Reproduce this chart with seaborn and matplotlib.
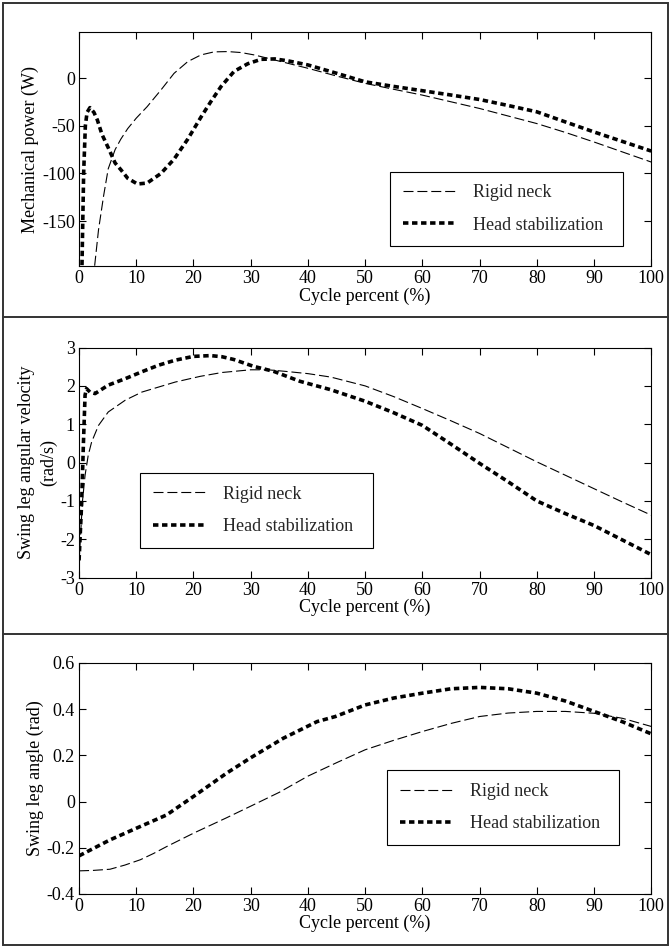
import numpy as np
import pandas as pd
import matplotlib
matplotlib.use("Agg")
import matplotlib.pyplot as plt
import seaborn as sns

# Cycle percent values
# Panel 1: mechanical power (W)
power_rigid_x = [2.0, 2.7, 3.4, 4.3, 5.1, 6.3, 7.3, 8.5, 10, 11.9, 14.3, 16.6, 19.0, 21.3,
                 23.6, 26, 28.3, 30.6, 33, 36.5, 40, 45, 50, 55, 60, 65, 70, 75, 80, 85,
                 90, 95, 100]
power_rigid_y = [-240, -198, -159, -123, -95, -75, -64, -53, -42, -30, -12.6, 4.9, 17.2, 24.2,
                 27.4, 27.7, 26.7, 24.2, 20.7, 15.4, 10.2, 2.1, -5.6, -11.8, -17.9, -24.9,
                 -31.9, -39.8, -47.7, -57, -67, -77.5, -88]
power_head_x = [0, 0.5, 0.8, 1.1, 1.4, 1.9, 2.6, 3.2, 4.0, 5.1, 6.3, 7.3, 8.5, 10.2, 11.9,
                14.3, 16.6, 19.0, 21.3, 23.0, 24.8, 27.1, 29.5, 31.8, 34.2, 36.5, 40, 45,
                50, 55, 60, 65, 70, 75, 80, 85, 90, 95, 100]
power_head_y = [-300, -200, -100, -50, -36, -31, -36, -44, -59, -73, -89, -96, -105, -111,
                -110, -100, -85, -64, -41, -25, -9, 7, 15, 19.6, 20, 18, 13.7, 5, -4,
                -8.8, -13.3, -17.8, -22.5, -28.8, -35.4, -46, -56.5, -66.5, -76.5]

# Panel 2: swing leg angular velocity (rad/s)
vel_rigid_x = [0, 0.17, 0.58, 1.05, 1.6, 2.2, 3.4, 5.1, 8.1, 11, 13.9, 16.8, 21.2, 25, 30,
               33, 36, 40, 44, 50, 55, 60, 65, 70, 75, 80, 85, 90, 95, 100]
vel_rigid_y = [-2.6, -2.16, -1.03, -0.33, 0.19, 0.54, 0.97, 1.32, 1.63, 1.84, 1.97, 2.1,
               2.25, 2.35, 2.42, 2.42, 2.38, 2.32, 2.23, 2.0, 1.72, 1.41, 1.09, 0.76, 0.39,
               0.02, -0.33, -0.68, -1.03, -1.37]
vel_head_x = [0, 0.46, 0.75, 1.05, 1.3, 1.9, 2.8, 5.1, 8.1, 11, 13.9, 16.8, 20, 23, 25, 27,
              30.5, 34, 38.6, 44, 50, 55, 60, 65, 70, 75, 80, 85, 90, 95, 100]
vel_head_y = [-2.55, -1.03, 0.45, 1.76, 1.93, 1.84, 1.8, 2.02, 2.19, 2.37, 2.54, 2.67, 2.77,
              2.79, 2.76, 2.69, 2.51, 2.38, 2.12, 1.9, 1.6, 1.3, 0.97, 0.48, -0.02, -0.5,
              -1.0, -1.33, -1.64, -2.02, -2.4]

# Panel 3: swing leg angle (rad)
ang_rigid_x = [0, 2.5, 5.4, 8, 10.7, 13, 15.3, 20, 25.8, 30, 35, 40, 45, 50, 55, 60, 65, 70,
               75, 80, 85, 90, 95, 100]
ang_rigid_y = [-0.30, -0.298, -0.293, -0.275, -0.252, -0.225, -0.195, -0.137, -0.07, -0.02,
               0.04, 0.11, 0.168, 0.224, 0.265, 0.303, 0.338, 0.368, 0.383, 0.39, 0.39,
               0.382, 0.36, 0.325]
ang_head_x = [0, 5.4, 10.7, 15.3, 20, 25.8, 29.9, 35.7, 41.6, 44.8, 50, 55, 60, 65, 70, 75,
              80, 85, 90, 95, 100]
ang_head_y = [-0.235, -0.166, -0.108, -0.058, 0.022, 0.123, 0.188, 0.274, 0.346, 0.368,
              0.418, 0.448, 0.469, 0.488, 0.494, 0.488, 0.469, 0.435, 0.39, 0.345, 0.293]

labels = ["Rigid neck", "Head stabilization"]
ylabels = ["Mechanical power (W)", "Swing leg angular velocity\n(rad/s)", "Swing leg angle (rad)"]
ylims = [(-197, 48), (-3, 3), (-0.4, 0.6)]
yticks = [[-150, -100, -50, 0], [-3, -2, -1, 0, 1, 2, 3], [-0.4, -0.2, 0, 0.2, 0.4, 0.6]]
yticklabels = [["-150", "-100", "-50", "0"],
               ["-3", "-2", "-1", "0", "1", "2", "3"],
               ["-0.4", "-0.2", "0", "0.2", "0.4", "0.6"]]
xticks = list(range(0, 101, 10))
legend_pos = [(0.544, 0.085), (0.107, 0.13), (0.538, 0.212)]

panels = [
    (power_rigid_x, power_rigid_y, power_head_x, power_head_y),
    (vel_rigid_x, vel_rigid_y, vel_head_x, vel_head_y),
    (ang_rigid_x, ang_rigid_y, ang_head_x, ang_head_y),
]

sns.set_theme(style="ticks")
plt.rcParams["font.family"] = ["Liberation Serif", "DejaVu Serif"]

fig = plt.figure(figsize=(6.7, 9.47), dpi=100)
fig.patch.set_facecolor("white")

# axes boxes (left, bottom, width, height) in figure fractions
boxes = [(0.118, 0.719, 0.854, 0.247),
         (0.118, 0.390, 0.854, 0.243),
         (0.118, 0.056, 0.854, 0.244)]

FS = 13

for i, (rx, ry, hx, hy) in enumerate(panels):
    ax = fig.add_axes(boxes[i])
    ax.set_facecolor("white")
    sns.lineplot(x=rx, y=ry, ax=ax, color="black", linewidth=0.8,
                 linestyle=(0, (9, 3.5)), label=labels[0])
    sns.lineplot(x=hx, y=hy, ax=ax, color="black", linewidth=2.6,
                 linestyle=(0, (1.5, 1.0)), label=labels[1])
    ax.set_xlim(0, 100)
    ax.set_ylim(*ylims[i])
    ax.set_xticks(xticks)
    ax.set_xticklabels([str(t) for t in xticks])
    ax.set_yticks(yticks[i])
    ax.set_yticklabels(yticklabels[i])
    ax.tick_params(direction="in", top=True, right=True, length=5, width=0.8,
                   labelsize=FS, colors="black", pad=3)
    for s in ax.spines.values():
        s.set_visible(True)
        s.set_color("black")
        s.set_linewidth(0.8)
    ax.set_xlabel("Cycle percent (%)", fontsize=FS, color="black", labelpad=0)
    ax.set_ylabel(ylabels[i], fontsize=FS, color="black", labelpad=2, linespacing=1.35)
    x0, y0 = legend_pos[i]
    leg = ax.legend(loc="lower left", bbox_to_anchor=(x0, y0, 0.406, 0.3), mode="expand",
                    fontsize=FS, frameon=True, fancybox=False, framealpha=1,
                    edgecolor="black", handlelength=3.0, handletextpad=0.9,
                    borderpad=0.7, labelspacing=0.85, borderaxespad=0)
    leg.get_frame().set_linewidth(0.8)

# panel separators and outer frame
for yy in [0.6653, 0.3305]:
    fig.add_artist(plt.Line2D([0.004, 0.997], [yy, yy], color="#333333", lw=1.4,
                              transform=fig.transFigure))
fig.add_artist(plt.Rectangle((0.004, 0.002), 0.993, 0.995, fill=False,
                             edgecolor="#333333", lw=1.4, transform=fig.transFigure))

fig.savefig("out.png", dpi=100, facecolor="white")
